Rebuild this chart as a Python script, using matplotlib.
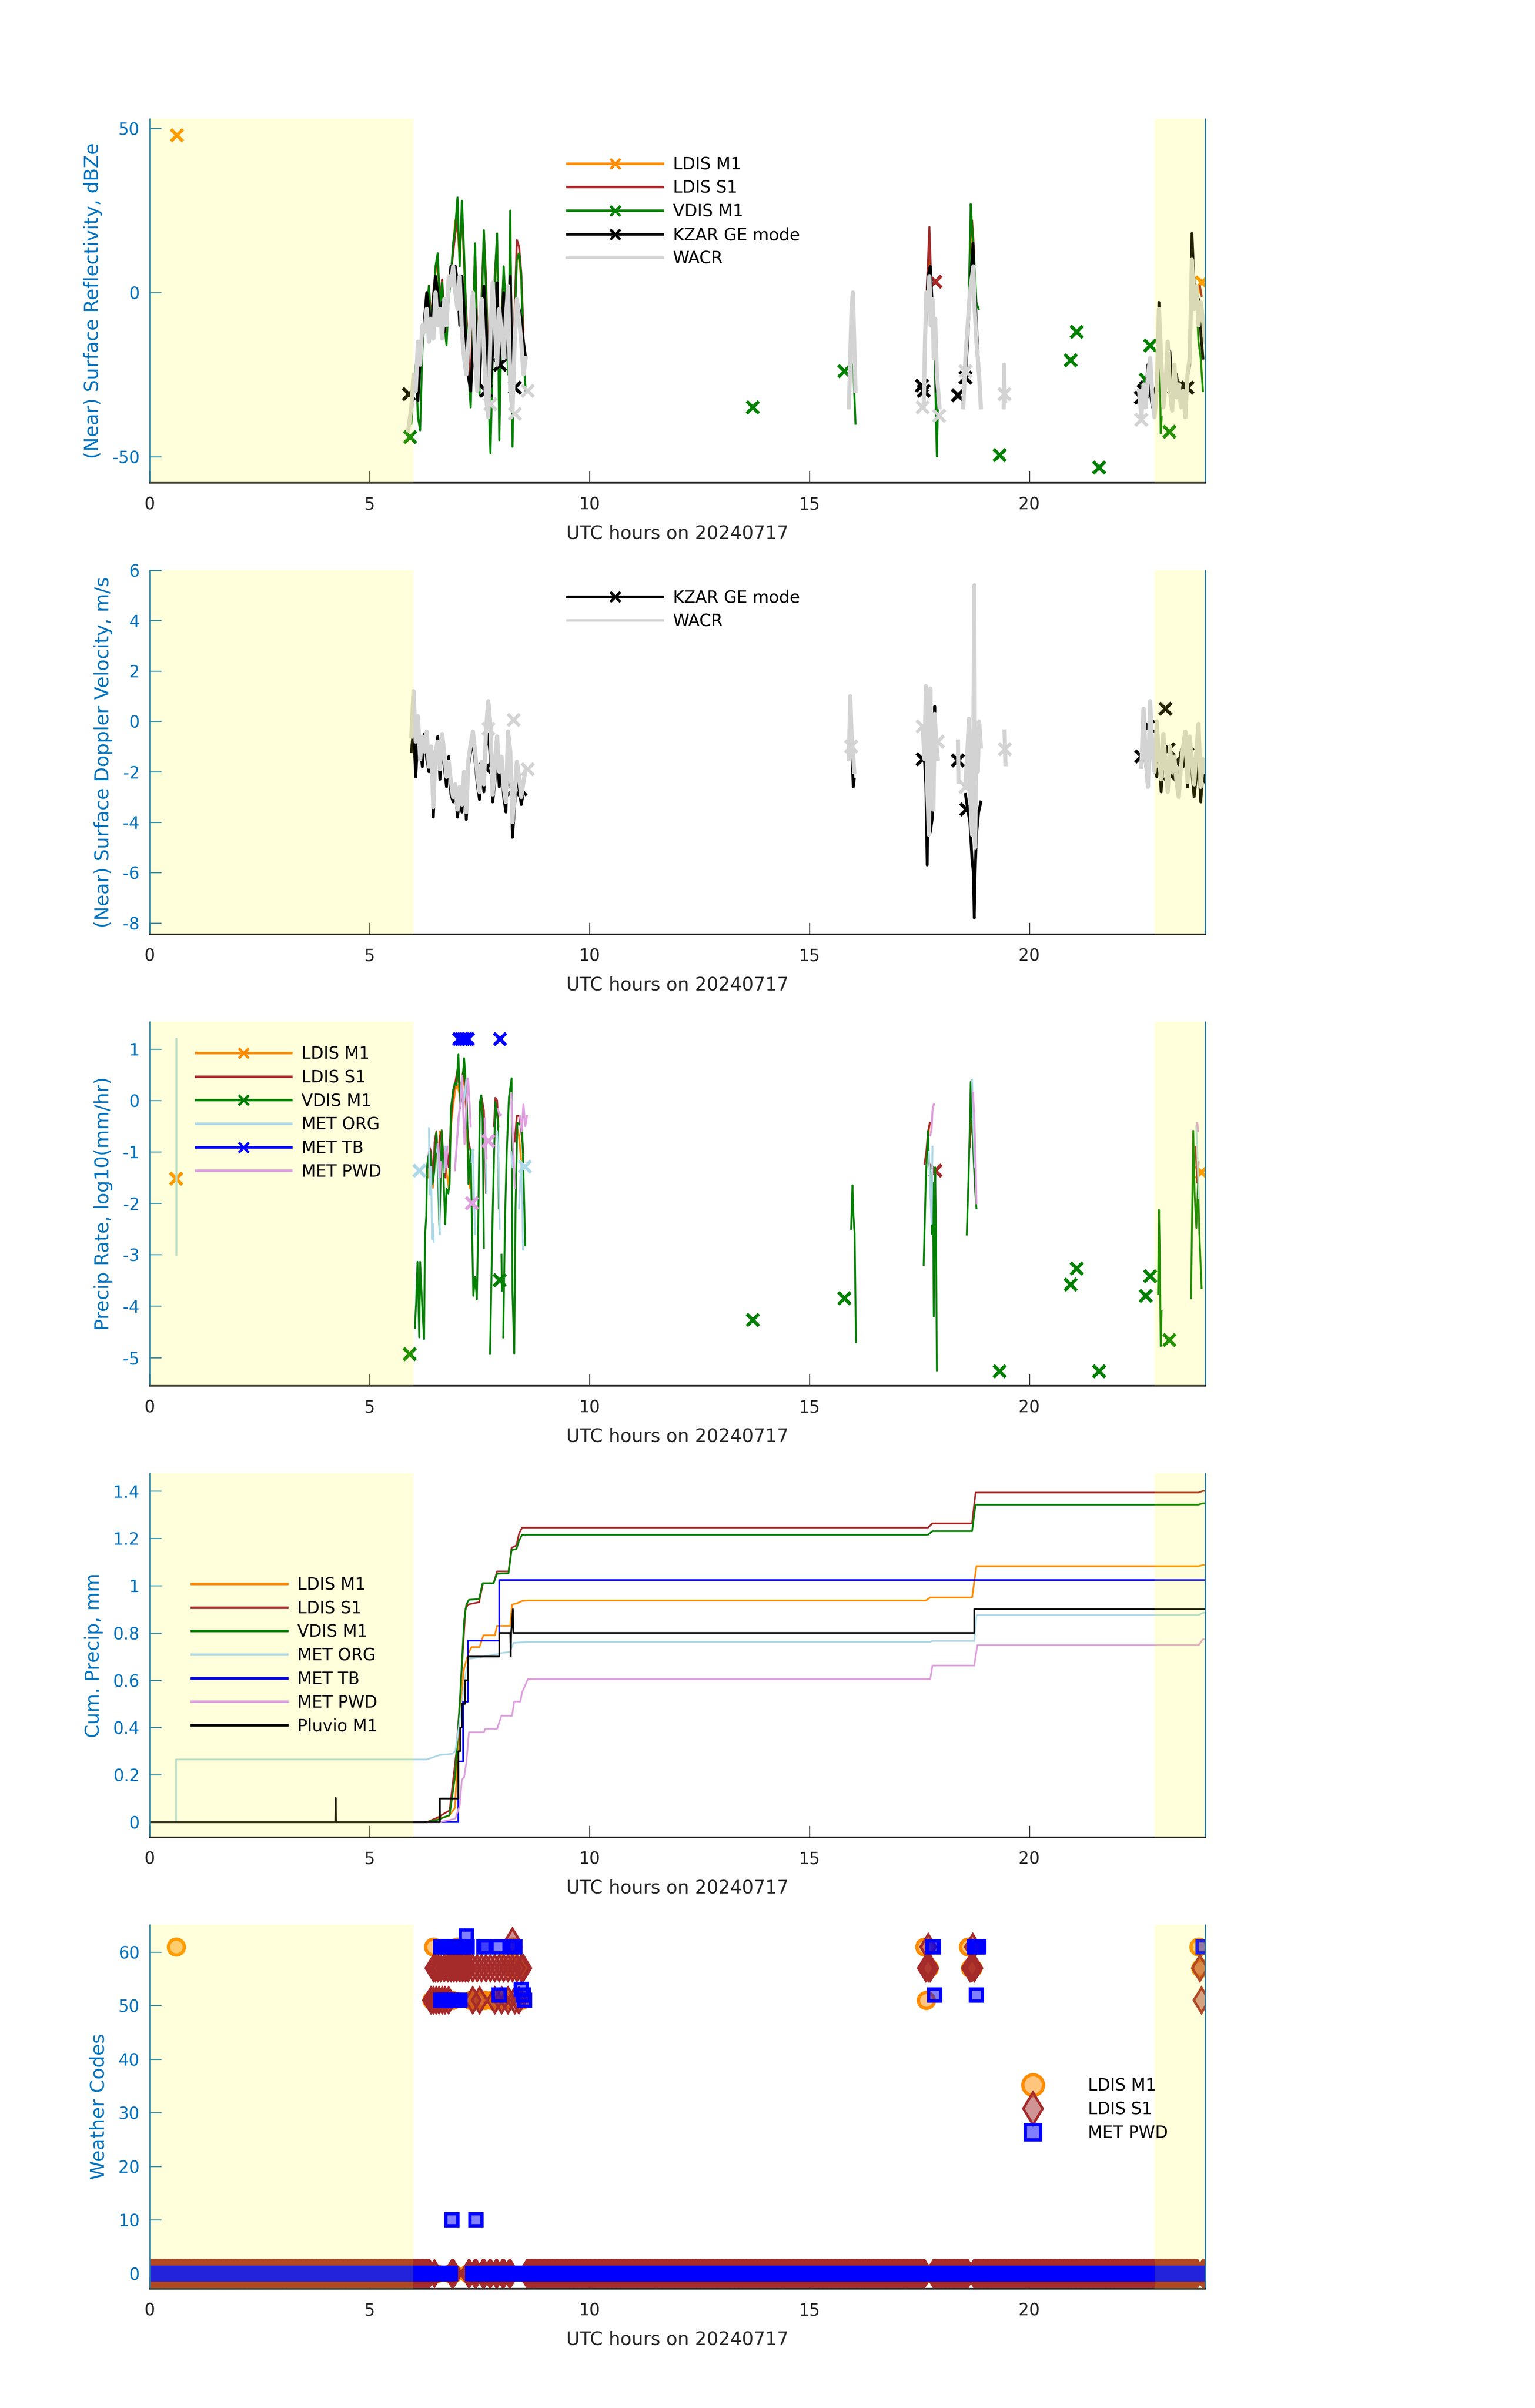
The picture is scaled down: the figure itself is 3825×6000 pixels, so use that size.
import numpy as np
import matplotlib.pyplot as plt
from matplotlib.lines import Line2D
from matplotlib.ticker import FuncFormatter

plt.rcParams['font.family'] = ['DejaVu Sans']
plt.rcParams['axes.unicode_minus'] = False

nan = np.nan

C_M1 = '#FF8C00'   # LDIS M1
C_S1 = '#A52A2A'   # LDIS S1
C_VD = '#008000'   # VDIS M1
C_KZ = '#000000'   # KZAR
C_WA = '#D3D3D3'   # WACR
C_ORG = '#ADD8E6'  # MET ORG
C_TB = '#0000FF'   # MET TB
C_PWD = '#DDA0DD'  # MET PWD
C_AX = '#0072BD'

# time base of the first rain event (hours UTC)
t_ev1 = np.round(np.arange(5.95, 8.551, 0.05), 2)

# ---------------- panel 1: reflectivity (dBZe)
ldis_m1_dbz = [nan] * 8 + [0, -10, -2, 6, 9, -4, 2, -8, -12, 0, 4, 14, 22, 20, 10, 26, 8, -8, -20, -28, -10, 12,
                           -15, -25, -3, 17, 2, -22, -35, -15, 4, 15, -30, -8, 6, -4, -20, 20, -35, -8, 12, 10,
                           4, -15, nan]
ldis_s1_dbz = [nan] * 8 + [2, -8, 0, 7, 10, -2, 4, -6, -10, 2, 6, 12, 18, 22, 12, 24, 10, -6, -18, -26, -8, 14,
                           -12, -22, 0, 18, 4, -20, -32, -12, 6, 16, -28, -6, 5, -2, -18, 18, -30, -5, 16, 14,
                           6, -12, nan]
vdis_dbz = [-40, -30, -22, -38, -42, -18, -8, -4, 2, -12, -3, 8, 12, -5, 3, -10, -16, -2, 5, 15,
            20, 29, 8, 28, 12, -10, -25, -35, -12, 15, -20, -31, -5, 19, 0, -30, -49, -20, 5, 18,
            -45, -10, 8, -5, -25, 25, -47, -10, 10, 12, 5, -20, -30]
kzar_dbz = [nan, -28, -25, -33, -20, -15, -8, 0, -5, -12, -2, 5, 0, -8, -3, -12, -6, 2, 8, 5,
            8, 3, -10, 5, -5, -18, -26, -30, -18, -5, -22, -28, -12, 2, -10, -25, -28, -18, -5, 3,
            -22, -15, 0, -8, -20, 5, -28, -12, -2, -5, -8, -15, -20]
wacr_dbz = [-35, -25, -30, -15, -22, -10, -12, -5, -15, -8, -14, 0, -10, -5, -14, -2, -10, 5, 2, 8,
            0, -5, 5, -12, -20, -25, -15, -8, 0, -20, -30, -10, -2, -18, -32, -38, -12, 3, -10, -22,
            -5, -12, -20, -8, 2, -30, -36, -15, -2, -8, -15, -25, -20]

# other events: (times, values); a single point is drawn as a marker
ldis_m1_dbz_more = [([0.62], [47.9]), ([17.68, 17.72, 17.75], [2, 10, 5]), ([18.66, 18.7, 18.74], [12, 18, 8]),
                    ([23.86, 23.9], [0, 4]), ([23.93], [3])]
ldis_s1_dbz_more = [([17.65, 17.7, 17.73, 17.76], [-5, 10, 20, 8]), ([17.87], [3.3]),
                    ([18.65, 18.7, 18.75], [15, 22, 12]), ([23.88, 23.92], [2, -1])]
vdis_dbz_more = [([5.92], [-44]), ([13.72], [-35]), ([15.8], [-24]), ([16.0, 16.02, 16.05], [-22, -30, -40]),
                 ([17.6, 17.65, 17.7, 17.75, 17.8, 17.85, 17.9, 17.93], [-25, -5, 5, 0, -10, -20, -50, -30]),
                 ([18.58, 18.62, 18.67, 18.7, 18.75, 18.8, 18.85], [-15, -5, 27, 20, 10, -3, -5]),
                 ([19.33], [-49.5]), ([20.94], [-20.7]), ([21.08], [-12]), ([21.59], [-53.3]),
                 ([22.65], [-26.6]), ([22.75], [-16.2]), ([23.19], [-42.5]),
                 ([22.93, 22.95, 22.97, 22.99, 23.01], [-30, -10, -15, -43, -38]),
                 ([23.65, 23.7, 23.75, 23.8, 23.85, 23.9, 23.95], [-10, -5, 0, -2, -15, -20, -30])]
kzar_dbz_more = [([5.9], [-31]), ([7.65], [-30]), ([7.97], [-22]), ([8.3], [-29]),
                 ([15.95, 15.98, 16.0], [-10, -5, -12]), ([17.56], [-28.4]), ([17.6], [-30]),
                 ([17.6, 17.65, 17.7, 17.75, 17.8, 17.85, 17.9], [-30, -10, 5, 8, -5, -15, -30]),
                 ([18.38], [-31.3]), ([18.55], [-26]),
                 ([18.55, 18.6, 18.65, 18.7, 18.72, 18.75, 18.8, 18.85], [-25, -15, 0, 10, 15, 5, -10, -22]),
                 ([22.54], [-32]), ([22.6], [-30]), ([22.66], [-29]), ([23.3], [-29]), ([23.6], [-29]),
                 ([22.55, 22.6, 22.65, 22.7, 22.75, 22.8, 22.85, 22.9, 22.95, 23.0, 23.05, 23.1, 23.15, 23.2, 23.25,
                   23.3, 23.35, 23.4, 23.45, 23.5, 23.55, 23.6, 23.65, 23.7, 23.75, 23.8, 23.85, 23.9, 23.95],
                  [-32, -28, -30, -22, -30, -35, -30, -28, -3, -22, -30, -25, -20, -18, -28, -30, -25, -30, -32,
                   -28, -30, -26, -22, 18, 2, -5, -2, -12, -20])]
wacr_dbz_more = [([5.88, 5.92, 5.95], [-42, -38, -35]), ([7.75], [-34]), ([8.3], [-37]), ([8.6], [-30]),
                 ([15.9, 15.93, 15.96, 15.99, 16.02, 16.05], [-35, -20, -5, 0, -15, -30]),
                 ([17.58], [-35]), ([17.95], [-37.6]),
                 ([17.6, 17.63, 17.66, 17.7, 17.73, 17.76, 17.8, 17.83, 17.86, 17.9, 17.93, 17.96],
                  [-35, -15, 0, -5, 5, -10, -2, -20, -8, -25, -30, -35]),
                 ([18.55], [-24]),
                 ([18.5, 18.55, 18.6, 18.65, 18.7, 18.73, 18.76, 18.8, 18.83, 18.86, 18.9],
                  [-35, -20, -10, 0, 5, 8, -5, -15, -20, -25, -35]),
                 ([19.42, 19.43, 19.44, 19.45], [-35, -22, -30, -33]), ([19.44], [-31]),
                 ([22.55], [-38.8]),
                 ([22.5, 22.55, 22.6, 22.65, 22.7, 22.75, 22.8, 22.85, 22.9, 22.95, 23.0, 23.05, 23.1, 23.15, 23.2,
                   23.25, 23.3, 23.35, 23.4, 23.45, 23.5, 23.55, 23.6, 23.65, 23.7, 23.75, 23.8, 23.85, 23.9, 23.95,
                   24.0],
                  [-30, -38, -28, -35, -25, -20, -32, -38, -30, -5, -20, -35, -28, -15, -30, -36, -22, -32, -28,
                   -35, -30, -38, -25, -20, 10, -5, 2, -10, -3, -8, -15])]

# ---------------- panel 2: Doppler velocity (m/s)
kzar_vel = [-1.2, -0.3, -2.2, -0.6, -1.0, -1.8, -0.5, -1.5, -2.0, -1.2, -3.8, -1.6, -0.6, -2.3, -1.0, -1.8, -2.6,
            -1.4, -2.9, -3.2, -2.8, -3.8, -3.0, -3.6, -2.3, -3.9, -1.8, -1.2, -0.8, -1.6, -2.5, -3.1, -1.9, -2.8,
            -1.0, -0.5, -1.5, -3.2, -2.4, -1.2, -2.6, -1.8, -3.0, -3.6, -0.9, -1.6, -4.6, -3.3, -2.0, -2.7,
            -3.3, -2.8, -2.9]
wacr_vel = [-0.6, 1.2, -0.8, 0.2, -1.5, -0.6, -1.2, -0.4, -1.8, -1.0, -3.4, -1.2, -0.8, -1.9, -0.5, -1.3, -2.2,
            -1.6, -2.4, -3.0, -2.5, -3.5, -2.6, -3.3, -2.0, -3.6, -1.5, -0.9, -0.4, -1.2, -2.1, -2.8, -1.6, -2.5,
            -0.3, 0.8, -0.2, -2.9, -1.8, -0.6, -2.0, -1.4, -2.6, -3.2, -0.4, -1.2, -4.0, -2.8, -1.6, -2.2,
            -3.0, -2.4, -1.9]
t_ev5 = [22.55, 22.6, 22.65, 22.7, 22.75, 22.8, 22.85, 22.9, 22.95, 23.0, 23.05, 23.1, 23.15, 23.2, 23.25, 23.3,
         23.35, 23.4, 23.45, 23.5, 23.55, 23.6, 23.65, 23.7, 23.75, 23.8, 23.85, 23.9, 23.95, 24.0]
kzar_vel_ev5 = [-1.5, -0.2, -1.8, -2.2, 0.5, -0.8, -1.6, -2.2, -1.4, -2.8, -1.5, -2.0, -2.5, -1.8, -1.6, -2.0, -2.4,
                -2.8, -1.2, -1.8, -1.0, -2.6, -1.3, -2.0, -3.0, -2.2, -1.5, -3.2, -2.0, -2.4]
wacr_vel_ev5 = [-1.8, 0.5, -1.5, -2.6, 0.8, -1.2, -2.0, 0.0, -1.5, -2.3, -0.5, -1.8, -2.8, -1.0, -2.0, -1.4, -2.4,
                -3.0, -1.8, -1.0, -0.4, -2.4, -0.6, -1.6, -2.5, -1.2, -0.1, -2.6, -1.5, -2.0]
kzar_vel_more = [([7.65], [-1.85]), ([8.27], [-2.7]),
                 ([15.96, 16.0, 16.02], [-1.0, -2.6, -2.3]), ([17.58], [-1.5]),
                 ([17.62, 17.65, 17.68, 17.7, 17.75, 17.8, 17.85, 17.88], [-1.6, -2.5, -5.7, -3.0, -4.4, -3.8, 0.6, -1.2]),
                 ([18.38], [-1.55]), ([18.57], [-3.5]),
                 ([18.55, 18.6, 18.65, 18.7, 18.73, 18.75, 18.77, 18.8, 18.85, 18.9],
                  [-2.9, -3.5, -4.0, -5.5, -6.0, -7.8, -6.0, -4.5, -3.6, -3.2]),
                 ([19.45, 19.46], [-1.5, -1.7]),
                 ([22.55], [-1.4]), ([22.7], [-0.2]), ([23.1], [0.5]), ([23.17], [-1.1]), ([23.2], [-2.1]),
                 ([23.34], [-1.6]), ([23.6], [-1.3])]
wacr_vel_more = [([7.7], [-0.3]), ([8.28], [0.05]), ([8.6], [-1.9]),
                 ([15.9, 15.93, 15.96, 15.99, 16.02], [-1.5, 1.0, -0.5, -1.2, -2.0]), ([15.95], [-1.0]),
                 ([17.58, 17.62, 17.65, 17.68, 17.72, 17.75, 17.78, 17.82, 17.85, 17.88, 17.92],
                  [-0.3, -1.5, 1.4, -2.5, -4.5, 1.3, -0.9, -3.5, 0.3, -0.7, -1.5]),
                 ([17.58], [-0.2]), ([17.92], [-0.8]),
                 ([18.38, 18.39], [-0.8, -2.4]),
                 ([18.55, 18.6, 18.63, 18.66, 18.7, 18.73, 18.75, 18.77, 18.8, 18.83, 18.86, 18.9],
                  [-2.5, -1.0, 0.1, -3.0, -4.5, -1.0, 5.4, -5.0, -0.5, -2.0, 0.0, -1.0]),
                 ([18.55], [-2.6]),
                 ([19.44, 19.45, 19.46], [-0.4, -1.1, -1.7]), ([19.45], [-1.1]), ([23.0], [-1.6])]

# ---------------- panel 3: precip rate, log10(mm/hr)
vdis_rr = [([5.91], [-4.93]),
           ([6.03, 6.06, 6.09, 6.13, 6.15, 6.2, 6.24, 6.26, 6.29, 6.31, 6.34, 6.38, 6.43, 6.47, 6.52, 6.55, 6.59,
             6.64, 6.67, 6.72, 6.75, 6.79, 6.82, 6.85, 6.9, 6.94, 6.98, 7.02, 7.06, 7.11, 7.15, 7.21, 7.25, 7.3,
             7.33, 7.36, 7.4, 7.44, 7.47, 7.51, 7.54, 7.57, 7.6],
            [-4.43, -3.92, -3.14, -4.61, -3.14, -4.06, -4.64, -2.64, -2.25, -1.26, -1.08, -0.99, -1.63, -1.4,
             -0.62, -1.26, -2.48, -0.58, -1.17, -2.41, -1.72, -1.81, -1.63, -0.16, 0.2, 0.34, 0.3, 0.89, -0.16,
             0.3, 0.82, 0.06, -1.63, -0.95, -2.47, -3.8, -3.43, -3.87, -2.45, -0.03, 0.1, -0.35, -2.87]),
           ([7.74, 7.8, 7.86, 7.92, 7.94], [-4.93, -2.18, -0.03, -0.44, -2.1]), ([7.96], [-3.5]),
           ([8.0, 8.01], [-3.0, -3.7]),
           ([8.04, 8.08, 8.12, 8.17, 8.23, 8.25, 8.29, 8.32, 8.36, 8.42, 8.47, 8.5, 8.54],
            [-4.61, -2.32, -0.99, 0.06, 0.43, -3.71, -4.93, -2.08, -0.44, -0.46, -0.58, -1.4, -2.82]),
           ([13.72], [-4.27]), ([15.8], [-3.85]),
           ([15.95, 15.98, 16.0, 16.03, 16.06], [-2.5, -1.65, -2.2, -2.6, -4.7]),
           ([17.6, 17.65, 17.7, 17.72, 17.75, 17.77, 17.79, 17.81, 17.83, 17.86, 17.88, 17.9],
            [-3.2, -1.5, -0.59, -1.2, -1.4, -1.8, -2.6, -1.6, -4.2, -1.3, -2.5, -5.25]),
           ([18.58, 18.62, 18.65, 18.67, 18.7, 18.74, 18.77, 18.8], [-2.61, -1.5, -0.5, 0.36, -0.3, -1.2, -1.74, -2.1]),
           ([19.33], [-5.27]), ([20.94], [-3.58]), ([21.08], [-3.27]), ([21.59], [-5.27]),
           ([22.65], [-3.8]), ([22.75], [-3.42]), ([23.19], [-4.66]),
           ([22.93, 22.95, 22.97, 22.99, 23.01], [-3.76, -2.13, -3.0, -4.78, -4.1]),
           ([23.68, 23.73, 23.76, 23.8, 23.84, 23.87, 23.92], [-3.85, -0.59, -1.8, -2.48, -1.6, -2.6, -3.65])]
ldis_m1_rr = [([0.6], [-1.52]),
              ([6.33, 6.38, 6.44, 6.5, 6.55, 6.6, 6.65, 6.7, 6.75, 6.8, 6.85, 6.9, 6.95, 7.0, 7.05, 7.1, 7.15, 7.2,
                7.25, 7.28], [-1.5, -1.1, -1.7, -0.7, -1.3, -0.6, -0.8, -1.2, -1.4, -1.7, -0.5, -0.1, 0.2, 0.3, 0.1,
                              0.2, 0.5, -0.3, -1.4, -1.7]),
              ([8.35, 8.4, 8.45], [-0.5, -0.7, -1.2]), ([17.7, 17.74], [-0.7, -0.45]), ([18.66, 18.7], [-0.6, -0.5]),
              ([23.92], [-1.4])]
ldis_s1_rr = [([6.33, 6.36, 6.4, 6.44, 6.48, 6.52, 6.56, 6.6, 6.64, 6.68, 6.72, 6.76, 6.8, 6.85, 6.9, 6.95, 7.0,
                7.05, 7.1, 7.15, 7.2, 7.25, 7.3],
               [-1.3, -0.9, -1.0, -1.6, -0.8, -0.6, -1.2, -0.7, -0.6, -1.1, -1.5, -1.0, -1.3, -0.4, 0.1, 0.35, 0.6,
                0.2, 0.4, 0.7, -0.2, -0.8, -1.0]),
              ([7.5, 7.55, 7.6, 7.65], [-0.3, 0.05, -0.2, -1.8]), ([7.83, 7.86, 7.9, 7.93], [-0.5, 0.05, 0.0, -0.5]),
              ([8.3, 8.35, 8.4, 8.45, 8.5], [-0.8, -0.3, -0.3, -0.6, -1.0]),
              ([17.62, 17.66, 17.7, 17.74], [-1.23, -1.0, -0.6, -0.44]), ([17.87], [-1.37]),
              ([18.65, 18.68, 18.72], [-0.9, -0.4, -0.7]), ([23.78, 23.82, 23.85], [-0.9, -1.6, -1.2])]
met_org_rr = [([0.6, 0.6], [1.2, -3.0]), ([6.13], [-1.37]),
              ([6.35, 6.36, 6.37], [-0.54, -1.4, -1.83]), ([6.4, 6.42, 6.44, 6.46], [-1.3, -2.7, -2.4, -2.75]),
              ([6.53, 6.55, 6.58, 6.6], [-1.0, -0.85, -1.8, -2.6]), ([6.7, 6.72, 6.74], [-1.4, -0.9, -1.2]),
              ([7.0, 7.05, 7.1, 7.15, 7.2], [-0.7, -0.2, 0.3, 0.0, 0.4]),
              ([7.32, 7.35, 7.38, 7.4], [-1.2, -0.95, -2.0, -2.6]), ([7.62, 7.64, 7.66], [-0.6, -1.1, -1.8]),
              ([7.9, 7.93, 7.96], [-0.6, -1.1, -2.5]), ([8.22, 8.25], [-1.0, -1.3]),
              ([8.4, 8.43, 8.46, 8.49], [-2.1, -1.5, -1.2, -2.9]), ([8.53], [-1.29]),
              ([17.72, 17.75, 17.78, 17.8], [-1.0, -1.8, -2.4, -0.9]), ([18.7, 18.73, 18.76], [0.4, -0.5, -1.3]),
              ([23.8, 23.83, 23.86], [-0.5, -1.2, -1.9])]
met_tb_rr = [([7.04], [1.19]), ([7.09], [1.19]), ([7.14], [1.19]), ([7.19], [1.19]), ([7.24], [1.19]),
             ([7.97], [1.19])]
met_pwd_rr = [([6.56, 6.58, 6.6, 6.62], [-0.85, -1.1, -1.5, -1.2]), ([6.71, 6.74, 6.77], [-1.0, -1.3, -0.9]),
              ([6.94, 6.98, 7.02, 7.06, 7.1, 7.13, 7.16, 7.2, 7.24, 7.27, 7.3],
               [-1.36, -0.9, -0.35, -0.1, 0.48, -0.2, -0.85, -0.1, 0.43, 0.0, -0.5]),
              ([7.33], [-2.0]), ([7.62, 7.64, 7.66], [-0.35, -0.8, -1.13]), ([7.7], [-0.79]),
              ([7.92, 7.96, 7.99], [-0.17, -0.3, -0.28]), ([8.22, 8.25, 8.28, 8.3], [0.14, -0.5, -1.2, -1.7]),
              ([8.42, 8.46, 8.5, 8.54, 8.58], [-0.3, -0.6, -0.08, -0.5, -0.3]),
              ([17.75, 17.78, 17.8, 17.83], [-0.68, -0.55, -0.2, -0.08]),
              ([18.72, 18.75, 18.78, 18.8], [0.15, -0.3, -1.2, -2.0]), ([23.82, 23.84], [-0.44, -0.6])]

# ---------------- panel 4: cumulative precip (mm)
cum_m1_t = [0, 6.3, 6.5, 6.8, 6.94, 7.0, 7.06, 7.15, 7.25, 7.32, 7.5, 7.59, 7.85, 7.9, 8.2, 8.24, 8.35, 8.47, 8.6,
            17.65, 17.75, 18.7, 18.8, 23.85, 23.95, 24]
cum_m1 = [0, 0, 0.015, 0.025, 0.06, 0.25, 0.49, 0.65, 0.716, 0.74, 0.74, 0.79, 0.79, 0.83, 0.83, 0.92, 0.925,
          0.935, 0.937, 0.937, 0.95, 0.95, 1.082, 1.082, 1.087, 1.087]
cum_s1_t = [0, 6.3, 6.55, 6.82, 6.97, 7.06, 7.18, 7.24, 7.49, 7.58, 7.82, 7.9, 8.16, 8.23, 8.34, 8.4, 8.47, 17.7,
            17.8, 18.7, 18.78, 23.85, 23.95, 24]
cum_s1 = [0, 0, 0.02, 0.05, 0.29, 0.53, 0.9, 0.92, 0.93, 1.01, 1.01, 1.06, 1.06, 1.16, 1.17, 1.22, 1.245, 1.245,
          1.263, 1.263, 1.393, 1.393, 1.40, 1.40]
cum_vd_t = [0, 6.3, 6.55, 6.82, 6.95, 7.05, 7.15, 7.2, 7.26, 7.49, 7.57, 7.82, 7.9, 8.16, 8.23, 8.34, 8.4, 8.47,
            17.7, 17.8, 18.7, 18.78, 23.85, 23.95, 24]
cum_vd = [0, 0, 0.01, 0.03, 0.2, 0.5, 0.85, 0.92, 0.94, 0.943, 1.01, 1.01, 1.05, 1.052, 1.15, 1.155, 1.19, 1.215,
          1.215, 1.23, 1.23, 1.342, 1.342, 1.348, 1.348]
cum_org_t = [0, 0.6, 0.6, 6.3, 6.6, 6.88, 6.95, 7.0, 7.1, 7.18, 7.25, 7.6, 7.9, 8.0, 8.2, 8.27, 8.6, 17.75, 17.8,
             18.75, 18.8, 23.85, 23.95, 24]
cum_org = [0, 0, 0.265, 0.265, 0.284, 0.289, 0.3, 0.36, 0.5, 0.62, 0.69, 0.70, 0.71, 0.715, 0.72, 0.758, 0.762,
           0.762, 0.766, 0.766, 0.875, 0.875, 0.885, 0.885]
cum_tb_t = [0, 7.02, 7.02, 7.13, 7.13, 7.24, 7.24, 7.95, 7.95, 24]
cum_tb = [0, 0, 0.257, 0.257, 0.51, 0.51, 0.767, 0.767, 1.023, 1.023]
cum_pwd_t = [0, 6.6, 6.95, 7.05, 7.1, 7.15, 7.2, 7.26, 7.6, 7.63, 7.9, 8.0, 8.24, 8.29, 8.43, 8.47, 8.52, 8.6,
             17.75, 17.8, 18.75, 18.82, 23.85, 23.95, 24]
cum_pwd = [0, 0, 0.015, 0.07, 0.18, 0.19, 0.25, 0.38, 0.38, 0.395, 0.395, 0.45, 0.45, 0.51, 0.51, 0.55, 0.57,
           0.605, 0.605, 0.662, 0.662, 0.748, 0.748, 0.773, 0.773]
cum_pluvio_t = [0, 4.22, 4.23, 4.24, 6.6, 6.6, 7.02, 7.02, 7.06, 7.06, 7.1, 7.1, 7.17, 7.17, 7.24, 7.24, 7.95,
                7.95, 8.2, 8.21, 8.22, 8.26, 8.27, 8.28, 18.75, 18.75, 24]
cum_pluvio = [0, 0, 0.103, 0, 0, 0.1, 0.1, 0.3, 0.3, 0.4, 0.4, 0.5, 0.5, 0.6, 0.6, 0.7, 0.7, 0.8, 0.8, 0.7, 0.8,
              0.9, 0.8, 0.8, 0.8, 0.9, 0.9]

# ---------------- panel 5: weather codes
m1_code_t = [0.6, 6.42, 6.45, 6.48, 6.52, 6.88, 6.92, 6.96, 7.0, 7.04, 7.08, 7.12, 7.3, 7.45, 7.62, 7.78, 7.92,
             8.08, 8.18, 8.22, 8.26, 8.32, 8.4, 8.45, 17.62, 17.66, 17.72, 18.62, 18.66, 18.72, 23.85, 23.9]
m1_code = [61, 51, 61, 51, 51, 51, 59, 57, 61, 57, 57, 57, 51, 51, 51, 51, 51, 51, 59, 57, 61, 57, 57, 51, 61,
           51, 57, 61, 57, 57, 61, 57]
s1_code_t = [6.45, 6.5, 6.55, 6.62, 6.7, 6.78, 6.85, 6.92, 6.98, 7.05, 7.12, 7.18, 7.25, 7.35, 7.45, 7.55, 7.65,
             7.75, 7.85, 7.95, 8.05, 8.15, 8.25, 8.35, 8.45, 8.5,
             6.4, 6.45, 6.52, 6.58, 6.65, 6.72, 6.8, 7.35, 7.5, 7.85, 8.0, 8.15, 8.3, 8.4,
             6.95, 7.05, 7.15, 8.25, 17.65, 17.7, 17.75, 17.7, 18.65, 18.7, 18.75, 18.72, 23.88, 23.92]
s1_code = [57] * 26 + [51] * 14 + [59, 59, 59, 62, 57, 57, 57, 61, 57, 57, 57, 61, 57, 51]
pwd_code_t = [6.62, 6.66, 6.7, 6.74, 6.78, 6.82, 7.02, 7.06, 7.1, 7.14, 7.18, 7.22, 7.6, 7.65, 7.92, 8.2, 8.25,
              8.3, 17.8, 17.82, 18.75, 18.78, 18.82, 18.85, 23.95, 7.2,
              6.62, 6.66, 6.7, 6.74, 6.78, 6.82, 6.86, 6.9, 6.94, 7.0, 7.05,
              7.95, 8.5, 17.85, 18.8, 8.45, 8.52, 6.87, 7.42]
pwd_code = [61] * 25 + [63] + [51] * 11 + [52, 52, 52, 52, 53, 51, 10, 10]
# periods with non-zero codes (no "0" report)
m1_wet = [(0.59, 0.62), (6.36, 6.46), (6.52, 6.82), (6.9, 7.24), (7.3, 7.4), (7.46, 7.55), (7.6, 7.7),
          (7.75, 7.85), (7.9, 8.0), (8.05, 8.15), (8.2, 8.55), (17.65, 17.72), (18.62, 18.7), (23.82, 23.92)]
s1_wet = [(6.38, 6.45), (6.5, 6.85), (6.92, 7.24), (7.3, 7.38), (7.45, 7.55), (7.62, 7.7), (7.78, 7.85),
          (7.92, 8.0), (8.08, 8.15), (8.22, 8.55), (17.65, 17.8), (18.62, 18.72), (23.85, 23.93)]
pwd_wet = [(6.85, 7.34), (8.55, 8.6), (18.86, 18.9)]
t_minute = np.arange(0, 24 + 1e-9, 1 / 60)


def dry_times(wet):
    keep = np.ones(t_minute.size, bool)
    for a, b in wet:
        keep &= ~((t_minute >= a) & (t_minute <= b))
    return t_minute[keep]


def draw(ax, segs, color, lw):
    for t, v in segs:
        if len(t) == 1:
            ax.plot(t, v, 'x', color=color, ms=7, mew=2)
        else:
            ax.plot(t, v, '-', color=color, lw=lw)


def setup(ax, ylim, yticks, ylabel):
    ax.set_xlim(0, 24)
    ax.set_ylim(*ylim)
    ax.set_xticks([0, 5, 10, 15, 20])
    ax.set_yticks(yticks)
    ax.yaxis.set_major_formatter(FuncFormatter(lambda v, p: '%g' % v))
    ax.tick_params(axis='x', direction='in', length=7, width=0.6, color='#262626',
                   labelcolor='#262626', labelsize=10, pad=8)
    ax.tick_params(axis='y', direction='in', length=7, width=0.6, color=C_AX,
                   labelcolor=C_AX, labelsize=10, pad=6)
    ax.spines['top'].set_visible(False)
    ax.spines['right'].set_color(C_AX)
    ax.spines['right'].set_linewidth(0.6)
    ax.spines['left'].set_color(C_AX)
    ax.spines['left'].set_linewidth(0.6)
    ax.spines['bottom'].set_color('#262626')
    ax.spines['bottom'].set_linewidth(1.0)
    ax.set_xlabel('UTC hours on 20240717', fontsize=11, color='#262626', labelpad=7)
    ax.set_ylabel(ylabel, fontsize=11.5, color=C_AX, labelpad=6)
    ax.axvspan(0, 6.0, color='yellow', alpha=0.14, lw=0, zorder=10)
    ax.axvspan(22.85, 24, color='yellow', alpha=0.14, lw=0, zorder=10)


def line_legend(ax, items, x, y):
    hs = [Line2D([], [], color=c, lw=1.5, marker=m, ms=6, mew=1.5) for c, m, _ in items]
    lg = ax.legend(hs, [l for _, _, l in items], loc='upper left', bbox_to_anchor=(x, y), frameon=False,
                   fontsize=10, handlelength=5.7, handletextpad=0.6, labelspacing=0.40, borderpad=0,
                   borderaxespad=0)
    lg.set_zorder(20)


fig = plt.figure(figsize=(12.75, 20), dpi=300)
L, W, H = 0.0975, 0.6876, 0.1512

# panel 1
ax1 = fig.add_axes([L, 0.7995, W, H])
draw(ax1, [(t_ev1, ldis_m1_dbz)] + ldis_m1_dbz_more, C_M1, 1.2)
draw(ax1, [(t_ev1, ldis_s1_dbz)] + ldis_s1_dbz_more, C_S1, 1.2)
draw(ax1, [(t_ev1, vdis_dbz)] + vdis_dbz_more, C_VD, 1.2)
draw(ax1, [(t_ev1, kzar_dbz)] + kzar_dbz_more, C_KZ, 1.7)
draw(ax1, [(t_ev1, wacr_dbz)] + wacr_dbz_more, C_WA, 2.5)
setup(ax1, (-58, 53), [-50, 0, 50], '(Near) Surface Reflectivity, dBZe')
line_legend(ax1, [(C_M1, 'x', 'LDIS M1'), (C_S1, None, 'LDIS S1'), (C_VD, 'x', 'VDIS M1'),
                  (C_KZ, 'x', 'KZAR GE mode'), (C_WA, None, 'WACR')], 0.396, 0.897)

# panel 2
ax2 = fig.add_axes([L, 0.612, W, H])
draw(ax2, [(t_ev1, kzar_vel), (t_ev5, kzar_vel_ev5)] + kzar_vel_more, C_KZ, 1.7)
draw(ax2, [(t_ev1, wacr_vel), (t_ev5, wacr_vel_ev5)] + wacr_vel_more, C_WA, 2.5)
setup(ax2, (-8.45, 6), np.arange(-8, 7, 2), '(Near) Surface Doppler Velocity, m/s')
line_legend(ax2, [(C_KZ, 'x', 'KZAR GE mode'), (C_WA, None, 'WACR')], 0.396, 0.947)

# panel 3
ax3 = fig.add_axes([L, 0.4245, W, H])
draw(ax3, ldis_m1_rr, C_M1, 1.1)
draw(ax3, ldis_s1_rr, C_S1, 1.1)
draw(ax3, vdis_rr, C_VD, 1.1)
draw(ax3, met_org_rr, C_ORG, 1.1)
draw(ax3, met_tb_rr, C_TB, 1.1)
draw(ax3, met_pwd_rr, C_PWD, 1.2)
setup(ax3, (-5.55, 1.53), np.arange(-5, 2, 1), 'Precip Rate, log10(mm/hr)')
line_legend(ax3, [(C_M1, 'x', 'LDIS M1'), (C_S1, None, 'LDIS S1'), (C_VD, 'x', 'VDIS M1'),
                  (C_ORG, None, 'MET ORG'), (C_TB, 'x', 'MET TB'), (C_PWD, None, 'MET PWD')], 0.044, 0.934)

# panel 4
ax4 = fig.add_axes([L, 0.237, W, H])
ax4.plot(cum_m1_t, cum_m1, color=C_M1, lw=1.0)
ax4.plot(cum_s1_t, cum_s1, color=C_S1, lw=1.0)
ax4.plot(cum_vd_t, cum_vd, color=C_VD, lw=1.0)
ax4.plot(cum_org_t, cum_org, color=C_ORG, lw=1.0)
ax4.plot(cum_tb_t, cum_tb, color=C_TB, lw=1.0)
ax4.plot(cum_pwd_t, cum_pwd, color=C_PWD, lw=1.0)
ax4.plot(cum_pluvio_t, cum_pluvio, color=C_KZ, lw=1.0)
setup(ax4, (-0.064, 1.475), np.arange(0, 1.41, 0.2), 'Cum. Precip, mm')
line_legend(ax4, [(C_M1, None, 'LDIS M1'), (C_S1, None, 'LDIS S1'), (C_VD, None, 'VDIS M1'),
                  (C_ORG, None, 'MET ORG'), (C_TB, None, 'MET TB'), (C_PWD, None, 'MET PWD'),
                  (C_KZ, None, 'Pluvio M1')], 0.04, 0.716)

# panel 5
ax5 = fig.add_axes([L, 0.0495, W, H])
face_m1 = (1.0, 0.549, 0.0, 0.5)
face_s1 = (0.647, 0.165, 0.165, 0.5)
face_pwd = (0.0, 0.0, 1.0, 0.5)
t0 = dry_times(m1_wet)
ax5.plot(np.concatenate([t0, m1_code_t]), np.concatenate([np.zeros(t0.size), m1_code]), 'o', ls='none',
         ms=9.5, mfc=face_m1, mec=C_M1, mew=2, label='LDIS M1')
t0 = dry_times(s1_wet)
ax5.plot(np.concatenate([t0, s1_code_t]), np.concatenate([np.zeros(t0.size), s1_code]), 'd', ls='none',
         ms=10.5, mfc=face_s1, mec=C_S1, mew=1.5, label='LDIS S1')
t0 = dry_times(pwd_wet)
ax5.plot(np.concatenate([t0, pwd_code_t]), np.concatenate([np.zeros(t0.size), pwd_code]), 's', ls='none',
         ms=7, mfc=face_pwd, mec=C_TB, mew=2, label='MET PWD')
setup(ax5, (-2.85, 65.1), np.arange(0, 61, 10), 'Weather Codes')
lg = ax5.legend(loc='upper left', bbox_to_anchor=(0.821, 0.58), frameon=False, fontsize=10, handlelength=2,
                handletextpad=2.3, labelspacing=0.4, borderpad=0, borderaxespad=0, markerscale=1.3)
lg.set_zorder(20)

fig.savefig('out.png', dpi=300)
